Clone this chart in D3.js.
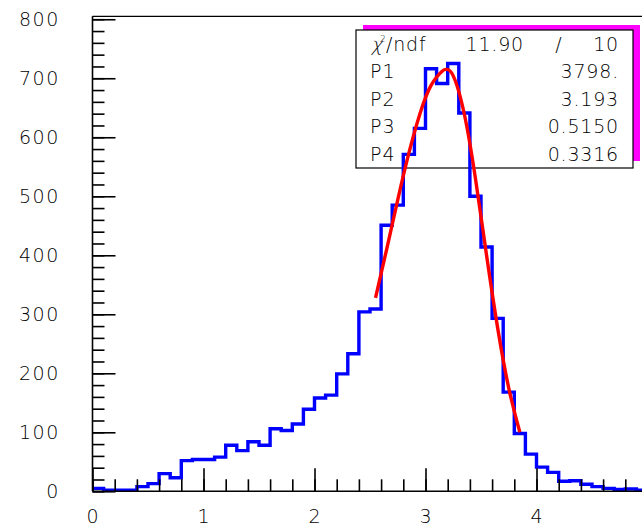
<!DOCTYPE html>
<html>
<head>
<meta charset="utf-8">
<script src="https://cdn.jsdelivr.net/npm/d3@7"></script>
<style>
  html, body { margin: 0; padding: 0; background: #fff; }
  svg { display: block; }
  text { font-family: "DejaVu Sans ExtraLight", "DejaVu Sans", sans-serif; font-weight: 200; fill: #000; }
</style>
</head>
<body>
<svg id="chart" width="642" height="528"></svg>
<script>
// ---- data ----
const xStart = 0;
const binWidth = 0.1;
const counts = [
  5, 2, 2, 2, 8, 13, 30, 23, 52, 54,
  54, 58, 78, 69, 84, 78, 106, 103, 114, 139,
  158, 163, 199, 233, 304, 309, 451, 485, 571, 615,
  716, 691, 725, 641, 500, 414, 293, 168, 98, 63,
  41, 32, 17, 18, 12, 8, 5, 3, 4, 2
];
const fitX = [2.55, 2.65, 2.75, 2.85, 2.95, 3.05, 3.15, 3.19, 3.25, 3.35, 3.45, 3.55, 3.65, 3.75, 3.85];
const fitY = [328, 410, 494, 573, 640, 688, 712, 715, 704, 639, 530, 400, 277, 175, 100];
const xTicks = [0, 1, 2, 3, 4];
const yTicks = [0, 100, 200, 300, 400, 500, 600, 700, 800];
const statLabels = ["P1", "P2", "P3", "P4"];
const statValues = ["3798.", "3.193", "0.5150", "0.3316"];
const chi2Value = "11.90";
const ndfValue = "10";

// ---- layout ----
const svg = d3.select("#chart");
const x = d3.scaleLinear().domain([0, 5]).range([92.5, 647.5]);
const y = d3.scaleLinear().domain([0, 805]).range([491.3, 16.3]);

// stats box (shadow + box) drawn first
const box = { x0: 356, y0: 30, x1: 633, y1: 168 };
svg.append("rect").attr("x", box.x0 + 7).attr("y", box.y0 - 5)
  .attr("width", box.x1 - box.x0).attr("height", box.y1 - box.y0 - 2)
  .attr("fill", "#ff00ff");
svg.append("rect").attr("x", box.x0).attr("y", box.y0)
  .attr("width", box.x1 - box.x0).attr("height", box.y1 - box.y0)
  .attr("fill", "#fff").attr("stroke", "#000").attr("stroke-width", 1.2);

const rowBase = [51, 78.4, 105.8, 133.2, 160.6];
const fs = 19;
// chi symbol drawn slanted, then superscript and "/ndf"
svg.append("text").attr("transform", `translate(371,${rowBase[0]}) skewX(-14)`)
  .attr("font-size", fs).text("χ");
svg.append("text").attr("x", 380).attr("y", rowBase[0] - 9)
  .attr("font-size", 9).text("2");
svg.append("text").attr("x", 386).attr("y", rowBase[0])
  .attr("font-size", fs).attr("letter-spacing", 0.8).text("/ndf");
svg.append("text").attr("x", 524).attr("y", rowBase[0]).attr("text-anchor", "end")
  .attr("font-size", fs).attr("letter-spacing", 0.8).text(chi2Value);
svg.append("text").attr("x", 558.5).attr("y", rowBase[0]).attr("text-anchor", "middle")
  .attr("font-size", fs).text("/");
svg.append("text").attr("x", 619).attr("y", rowBase[0]).attr("text-anchor", "end")
  .attr("font-size", fs).attr("letter-spacing", 0.8).text(ndfValue);
statLabels.forEach((lab, i) => {
  svg.append("text").attr("x", 370).attr("y", rowBase[i + 1])
    .attr("font-size", fs).attr("letter-spacing", 1).text(lab);
  svg.append("text").attr("x", 619).attr("y", rowBase[i + 1]).attr("text-anchor", "end")
    .attr("font-size", fs).attr("letter-spacing", 0.8).text(statValues[i]);
});

// histogram step outline
const pts = [];
counts.forEach((c, i) => {
  const a = xStart + i * binWidth, b = a + binWidth;
  pts.push([a, c]); pts.push([b, c]);
});
const stepLine = d3.line().x(d => x(d[0])).y(d => y(d[1]));
svg.append("path").attr("d", stepLine(pts))
  .attr("fill", "none").attr("stroke", "#0000ff").attr("stroke-width", 3.4)
  .attr("stroke-linejoin", "miter");

// fit curve
const fitLine = d3.line().x(d => x(d[0])).y(d => y(d[1])).curve(d3.curveNatural);
svg.append("path").attr("d", fitLine(fitX.map((v, i) => [v, fitY[i]])))
  .attr("fill", "none").attr("stroke", "#ff0000").attr("stroke-width", 3.4);

// frame top
svg.append("line").attr("x1", x(0)).attr("x2", 642).attr("y1", y(805)).attr("y2", y(805))
  .attr("stroke", "#000").attr("stroke-width", 1.2);

// axes with ROOT-like inside ticks
const gx = svg.append("g").attr("transform", `translate(0,${y(0)})`);
gx.call(d3.axisTop(x).tickValues(d3.range(0, 5.0001, 0.2)).tickSize(12).tickFormat(""));
gx.selectAll(".tick line").attr("stroke-width", 1.6);
gx.select(".domain").remove();
const gxMaj = svg.append("g").attr("transform", `translate(0,${y(0)})`);
gxMaj.call(d3.axisTop(x).tickValues(xTicks).tickSize(23).tickFormat(""));
gxMaj.selectAll(".tick line").attr("stroke-width", 1.6);
gxMaj.select(".domain").remove();
svg.append("line").attr("x1", x(0)).attr("x2", 642).attr("y1", y(0)).attr("y2", y(0))
  .attr("stroke", "#000").attr("stroke-width", 1.6);
xTicks.forEach(v => {
  svg.append("text").attr("x", x(v)).attr("y", 523).attr("text-anchor", "middle")
    .attr("font-size", fs).text(String(v));
});

const gy = svg.append("g").attr("transform", `translate(${x(0)},0)`);
gy.call(d3.axisRight(y).tickValues(d3.range(0, 800.1, 20)).tickSize(12).tickFormat(""));
gy.selectAll(".tick line").attr("stroke-width", 1.6);
gy.select(".domain").remove();
const gyMaj = svg.append("g").attr("transform", `translate(${x(0)},0)`);
gyMaj.call(d3.axisRight(y).tickValues(yTicks).tickSize(23).tickFormat(""));
gyMaj.selectAll(".tick line").attr("stroke-width", 1.6);
gyMaj.select(".domain").remove();
svg.append("line").attr("x1", x(0)).attr("x2", x(0)).attr("y1", y(0)).attr("y2", y(805))
  .attr("stroke", "#000").attr("stroke-width", 1.6);
yTicks.forEach(v => {
  svg.append("text").attr("x", 60).attr("y", y(v) + 7).attr("text-anchor", "end")
    .attr("font-size", fs).attr("letter-spacing", 1.6).text(String(v));
});
</script>
</body>
</html>
